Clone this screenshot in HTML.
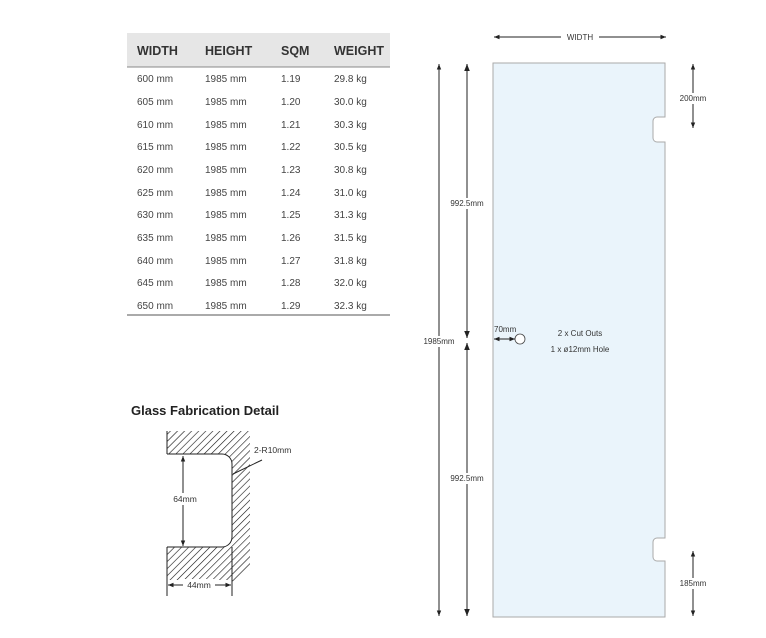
<!DOCTYPE html>
<html><head><meta charset="utf-8"><style>
body{margin:0;background:#fff;width:766px;height:638px;overflow:hidden;font-family:"Liberation Sans",sans-serif;}
svg{position:absolute;left:0;top:0}
</style></head><body>
<svg width="766" height="638" viewBox="0 0 766 638" font-family="Liberation Sans, sans-serif">
<defs>
<pattern id="h" width="5" height="5" patternUnits="userSpaceOnUse" patternTransform="rotate(45)"><line x1="0" y1="0" x2="0" y2="5" stroke="#111" stroke-width="1.2"/></pattern>
<marker id="a" viewBox="0 0 10 10" refX="10" refY="5" markerWidth="5.5" markerHeight="5.5" orient="auto-start-reverse"><path d="M0,1 L10,5 L0,9 z" fill="#222"/></marker>
<clipPath id="c"><path d="M167,431 H250 V570 L232,582 V580 H167 Z"/></clipPath>
</defs>
<!-- table -->
<rect x="127" y="33" width="263" height="34" fill="#e6e6e6"/>
<line x1="127" y1="67" x2="390" y2="67" stroke="#888" stroke-width="1"/>
<g font-size="12.5" font-weight="bold" fill="#333"><text x="137" y="55">WIDTH</text><text x="205" y="55">HEIGHT</text><text x="281" y="55">SQM</text><text x="334" y="55">WEIGHT</text></g>
<g font-size="10" fill="#444">
<text x="137" y="82">600 mm</text><text x="205" y="82">1985 mm</text><text x="281" y="82">1.19</text><text x="334" y="82">29.8 kg</text>
<text x="137" y="105">605 mm</text><text x="205" y="105">1985 mm</text><text x="281" y="105">1.20</text><text x="334" y="105">30.0 kg</text>
<text x="137" y="128">610 mm</text><text x="205" y="128">1985 mm</text><text x="281" y="128">1.21</text><text x="334" y="128">30.3 kg</text>
<text x="137" y="150">615 mm</text><text x="205" y="150">1985 mm</text><text x="281" y="150">1.22</text><text x="334" y="150">30.5 kg</text>
<text x="137" y="173">620 mm</text><text x="205" y="173">1985 mm</text><text x="281" y="173">1.23</text><text x="334" y="173">30.8 kg</text>
<text x="137" y="196">625 mm</text><text x="205" y="196">1985 mm</text><text x="281" y="196">1.24</text><text x="334" y="196">31.0 kg</text>
<text x="137" y="218">630 mm</text><text x="205" y="218">1985 mm</text><text x="281" y="218">1.25</text><text x="334" y="218">31.3 kg</text>
<text x="137" y="241">635 mm</text><text x="205" y="241">1985 mm</text><text x="281" y="241">1.26</text><text x="334" y="241">31.5 kg</text>
<text x="137" y="264">640 mm</text><text x="205" y="264">1985 mm</text><text x="281" y="264">1.27</text><text x="334" y="264">31.8 kg</text>
<text x="137" y="286">645 mm</text><text x="205" y="286">1985 mm</text><text x="281" y="286">1.28</text><text x="334" y="286">32.0 kg</text>
<text x="137" y="309">650 mm</text><text x="205" y="309">1985 mm</text><text x="281" y="309">1.29</text><text x="334" y="309">32.3 kg</text>
</g>
<line x1="127" y1="315" x2="390" y2="315" stroke="#555" stroke-width="1"/>
<!-- fabrication detail -->
<text x="131" y="415" font-size="13" font-weight="bold" fill="#222">Glass Fabrication Detail</text>
<g clip-path="url(#c)"><rect x="160" y="425" width="100" height="170" fill="url(#h)"/></g>
<path d="M167,454 H222 A10,10 0 0 1 232,464 V537 A10,10 0 0 1 222,547 H167 Z" fill="#fff" stroke="none"/>
<path d="M167,454 H222 A10,10 0 0 1 232,464 V537 A10,10 0 0 1 222,547 H167" fill="none" stroke="#222" stroke-width="1"/>
<line x1="167" y1="431" x2="167" y2="454" stroke="#222"/>
<line x1="167" y1="547" x2="167" y2="596" stroke="#222"/><line x1="232" y1="547" x2="232" y2="596" stroke="#222"/>
<line x1="183" y1="456" x2="183" y2="546" stroke="#222" marker-start="url(#a)" marker-end="url(#a)"/>
<rect x="170" y="493" width="30" height="12" fill="#fff"/>
<text x="185" y="502" font-size="8.5" fill="#333" text-anchor="middle">64mm</text>
<line x1="168" y1="585" x2="231" y2="585" stroke="#222" marker-start="url(#a)" marker-end="url(#a)"/>
<rect x="183" y="579" width="32" height="12" fill="#fff"/>
<text x="199" y="588" font-size="8.5" fill="#333" text-anchor="middle">44mm</text>
<line x1="233" y1="474" x2="262" y2="460" stroke="#222"/>
<text x="254" y="453" font-size="8.5" fill="#333">2-R10mm</text>
<!-- panel -->
<path d="M493,63 H665 V117 H657 A4,4 0 0 0 653,121 V138 A4,4 0 0 0 657,142 H665 V538 H657 A4,4 0 0 0 653,542 V557 A4,4 0 0 0 657,561 H665 V617 H493 Z" fill="#eaf4fb" stroke="#aaa" stroke-width="1"/>
<!-- width -->
<line x1="494" y1="37" x2="666" y2="37" stroke="#222" marker-start="url(#a)" marker-end="url(#a)"/>
<rect x="561" y="31" width="38" height="12" fill="#fff"/>
<text x="580" y="40" font-size="8" fill="#333" text-anchor="middle">WIDTH</text>
<!-- 200 / 185 -->
<line x1="693" y1="64" x2="693" y2="128" stroke="#222" marker-start="url(#a)" marker-end="url(#a)"/>
<rect x="676" y="93" width="36" height="11" fill="#fff"/>
<text x="693" y="101" font-size="8" fill="#333" text-anchor="middle">200mm</text>
<line x1="693" y1="551" x2="693" y2="616" stroke="#222" marker-start="url(#a)" marker-end="url(#a)"/>
<rect x="676" y="578" width="36" height="11" fill="#fff"/>
<text x="693" y="586" font-size="8" fill="#333" text-anchor="middle">185mm</text>
<!-- heights -->
<line x1="439" y1="64" x2="439" y2="616" stroke="#222" marker-start="url(#a)" marker-end="url(#a)"/>
<rect x="419" y="336" width="40" height="11" fill="#fff"/>
<text x="439" y="344" font-size="8" fill="#333" text-anchor="middle">1985mm</text>
<line x1="467" y1="64" x2="467" y2="338" stroke="#555" stroke-width="1.3" marker-start="url(#a)" marker-end="url(#a)"/>
<line x1="467" y1="343" x2="467" y2="616" stroke="#555" stroke-width="1.3" marker-start="url(#a)" marker-end="url(#a)"/>
<rect x="446" y="198" width="42" height="11" fill="#fff"/>
<text x="467" y="206" font-size="8" fill="#333" text-anchor="middle">992.5mm</text>
<rect x="446" y="473" width="42" height="11" fill="#fff"/>
<text x="467" y="481" font-size="8" fill="#333" text-anchor="middle">992.5mm</text>
<!-- hole -->
<circle cx="520" cy="339" r="5" fill="#fff" stroke="#444" stroke-width="0.8"/>
<line x1="494" y1="339" x2="515" y2="339" stroke="#222" marker-start="url(#a)" marker-end="url(#a)"/>
<text x="494" y="332" font-size="8" fill="#333">70mm</text>
<text x="580" y="336" font-size="8" fill="#333" text-anchor="middle">2 x Cut Outs</text>
<text x="580" y="352" font-size="8" fill="#333" text-anchor="middle">1 x ø12mm Hole</text>
</svg>
</body></html>
